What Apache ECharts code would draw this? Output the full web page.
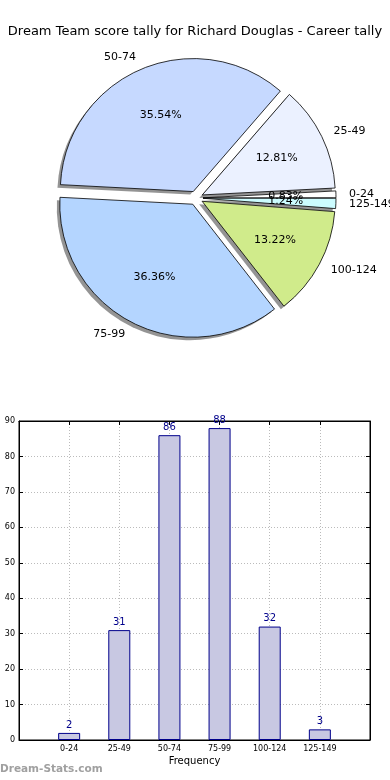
<!DOCTYPE html>
<html>
<head>
<meta charset="utf-8">
<script src="https://cdn.jsdelivr.net/npm/echarts@6/dist/echarts.min.js"></script>
<style>
html,body{margin:0;padding:0;background:#fff;}
#c{width:390px;height:780px;}
</style>
</head>
<body>
<div id="c"></div>
<script>
const titleText = 'Dream Team score tally for Richard Douglas - Career tally';
const categories = ['0-24', '25-49', '50-74', '75-99', '100-124', '125-149'];
const counts = [2, 31, 86, 88, 32, 3];
const pieColors = ['#ffffff', '#ebf1ff', '#c6d9ff', '#b4d5ff', '#d0eb8b', '#ccfcff'];
const yTicks = [0, 10, 20, 30, 40, 50, 60, 70, 80, 90];
const xAxisName = 'Frequency';
const watermark = 'Dream-Stats.com';

const FONT = 'DejaVu Sans';
const R = 133;
const CX = 196, CY = 198;

const pieData = categories.map((c, i) => ({
  name: c, value: counts[i], selected: true,
  itemStyle: { color: pieColors[i] }
}));
const plainData = categories.map((c, i) => ({
  name: c, value: counts[i], selected: true
}));

const pieCommon = {
  type: 'pie', startAngle: 0, clockwise: false,
  selectedMode: 'multiple', selectedOffset: 7,
  avoidLabelOverlap: false,
  labelLayout: { hideOverlap: false },
  emphasis: { disabled: true }, silent: true
};

const chart = echarts.init(document.getElementById('c'));
chart.setOption({
  animation: false,
  backgroundColor: '#fff',
  title: {
    text: titleText, left: 'center', top: 20,
    textStyle: { fontFamily: FONT, fontSize: 13, fontWeight: 'normal', color: '#000' }
  },
  graphic: [{
    type: 'text', left: 0, top: 764,
    style: { text: watermark, fill: '#a0a0a0', font: 'bold 10.5px "DejaVu Sans"' }
  }],
  grid: { left: 19, right: 20, top: 421, bottom: 40, show: true, borderColor: '#000', borderWidth: 1 },
  xAxis: [{
    type: 'value', min: -1, max: 6, interval: 1,
    name: xAxisName, nameLocation: 'middle', nameGap: 16,
    nameTextStyle: { fontFamily: FONT, fontSize: 10, color: '#000' },
    axisLine: { show: true, onZero: false, lineStyle: { color: '#000' } },
    axisTick: { show: true, inside: true, length: 4, lineStyle: { color: '#000' } },
    axisLabel: { fontFamily: FONT, fontSize: 8, color: '#000', margin: 5,
      formatter: v => (categories[v] !== undefined ? categories[v] : '') },
    splitLine: { show: true, lineStyle: { color: '#bbb', type: [1, 2] } }
  }, {
    type: 'value', position: 'top', min: -1, max: 6, interval: 1,
    axisLine: { show: true, onZero: false, lineStyle: { color: '#000' } },
    axisTick: { show: true, inside: true, length: 4, lineStyle: { color: '#000' } },
    axisLabel: { show: false }, splitLine: { show: false }
  }],
  yAxis: [{
    type: 'value', min: yTicks[0], max: yTicks[yTicks.length - 1], interval: 10,
    axisLine: { show: true, onZero: false, lineStyle: { color: '#000' } },
    axisTick: { show: true, inside: true, length: 4, lineStyle: { color: '#000' } },
    axisLabel: { fontFamily: FONT, fontSize: 8, color: '#000', margin: 4 },
    splitLine: { show: true, lineStyle: { color: '#bbb', type: [1, 2] } }
  }, {
    type: 'value', position: 'right', min: yTicks[0], max: yTicks[yTicks.length - 1], interval: 10,
    axisLine: { show: true, onZero: false, lineStyle: { color: '#000' } },
    axisTick: { show: true, inside: true, length: 4, lineStyle: { color: '#000' } },
    axisLabel: { show: false }, splitLine: { show: false }
  }],
  series: [Object.assign({}, pieCommon, {
    // shadow layer
    center: [CX - 3, CY + 3], radius: R, z: 1,
    itemStyle: { color: 'rgba(60,60,60,0.55)', borderWidth: 0 },
    label: { show: false }, labelLine: { show: false },
    data: plainData
  }), Object.assign({}, pieCommon, {
    center: [CX, CY], radius: R, z: 2,
    itemStyle: { borderColor: '#000', borderWidth: 0.8 },
    label: {
      show: true, position: 'outside', formatter: '{b}',
      fontFamily: FONT, fontSize: 11, color: '#000',
      distanceToLabelLine: 0, overflow: 'none'
    },
    labelLine: { show: false, length: 13, length2: 0 },
    data: pieData
  }), Object.assign({}, pieCommon, {
    center: [CX, CY], radius: R * 1.2, z: 3,
    itemStyle: { color: 'rgba(0,0,0,0)', borderWidth: 0 },
    label: {
      show: true, position: 'inside', formatter: '{d}%',
      fontFamily: FONT, fontSize: 11, color: '#000'
    },
    labelLine: { show: false },
    data: plainData
  }), {
    type: 'bar',
    xAxisIndex: 0, yAxisIndex: 0,
    barWidth: 22,
    itemStyle: { color: '#c8c8e2', borderColor: '#00008b', borderWidth: 1 },
    label: { show: true, position: 'top', distance: 3, fontFamily: FONT, fontSize: 10, color: '#00008b' },
    emphasis: { disabled: true },
    data: counts.map((v, i) => [i, v])
  }]
});
</script>
</body>
</html>
